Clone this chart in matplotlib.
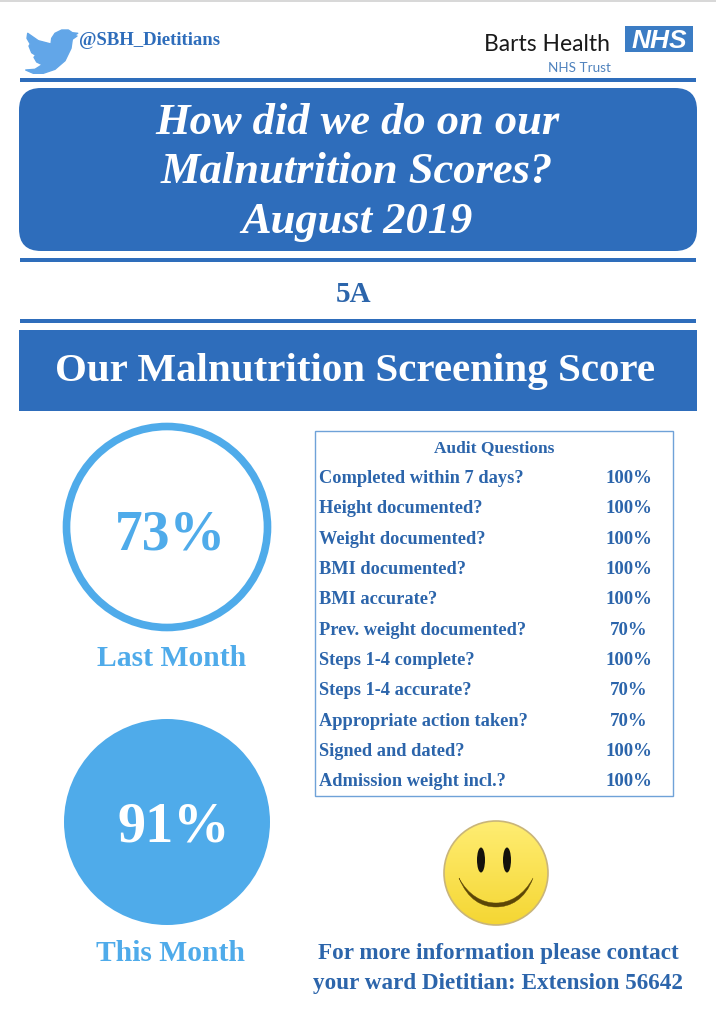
import matplotlib
matplotlib.use('Agg')
import matplotlib.pyplot as plt
from matplotlib.patches import Circle, Ellipse, FancyBboxPatch, PathPatch, Rectangle
from matplotlib.path import Path
import numpy as np

BLUE = '#2e6dbb'
DARK_BLUE = '#2c65ab'
SKY = '#4fabea'
BIRD = '#62a6e8'
SERIF = 'Liberation Serif'

title_lines = ['How did we do on our', 'Malnutrition Scores?', 'August 2019']
ward = '5A'
banner = 'Our Malnutrition Screening Score'
last_month = 73
this_month = 91
audit_questions = ['Completed within 7 days?', 'Height documented?', 'Weight documented?',
                   'BMI documented?', 'BMI accurate?', 'Prev. weight documented?',
                   'Steps 1-4 complete?', 'Steps 1-4 accurate?', 'Appropriate action taken?',
                   'Signed and dated?', 'Admission weight incl.?']
audit_scores = [100, 100, 100, 100, 100, 70, 100, 70, 70, 100, 100]
contact_lines = ['For more information please contact', 'your ward Dietitian: Extension 56642']


def serif_text(ax, x, y, s, size, color=DARK_BLUE, ha='center', style='normal'):
    # y is the baseline
    ax.text(x, y, s, fontsize=size, color=color, ha=ha, va='baseline', family=SERIF,
            fontweight='bold', fontstyle=style)


def draw_bird(ax):
    verts = [(77.7, 33.3), (72.3, 32.7), (68.3, 30), (61.7, 30), (55, 33.3), (51.7, 38.3), (51, 44),
             (38.3, 40.7), (27.7, 33.3), (27, 38.3), (30.3, 44), (29, 46), (31.7, 52.7), (35.7, 55.3),
             (34, 57.3), (36.7, 62), (42.3, 64.7), (35, 69.3), (25.7, 70), (33.3, 73.3), (43.3, 73.3),
             (55, 69.3), (65, 60.7), (71, 48.3), (72.3, 39.3), (77, 36), (73.7, 35.7), (77.7, 33.3)]
    codes = [Path.MOVETO] + [Path.LINETO] * (len(verts) - 2) + [Path.CLOSEPOLY]
    ax.add_patch(PathPatch(Path(verts, codes), fc=BIRD, ec=BIRD, lw=1, joinstyle='round'))


def draw_smiley(ax):
    cx, cy, r = 496, 873, 52
    shade = np.linspace(0, 1, 200).reshape(-1, 1, 1)
    colours = np.array([1.0, 0.93, 0.45]) * (1 - shade) + np.array([0.96, 0.84, 0.2]) * shade
    im = ax.imshow(colours, extent=(cx - r, cx + r, cy + r, cy - r), zorder=2, aspect='auto')
    im.set_clip_path(Circle((cx, cy), r, transform=ax.transData))
    ax.add_patch(Circle((cx, cy), r, fc='none', ec='#c9b57a', lw=1.2, zorder=3))
    for ex in (481, 507):
        ax.add_patch(Ellipse((ex, 860), 8, 25, fc='#14120c', ec='none', zorder=4))
    smile = [(459, 878), (468, 900), (482, 907), (496, 907), (510, 907), (525, 900), (533, 878),
             (524, 895), (510, 903), (496, 903), (482, 903), (468, 895), (459, 878)]
    ax.add_patch(PathPatch(Path(smile, [Path.MOVETO] + [Path.CURVE4] * 12),
                           fc='#5c4606', ec='#5c4606', lw=0.3, zorder=4))


fig = plt.figure(figsize=(7.16, 10.24), dpi=100)
ax = fig.add_axes([0, 0, 1, 1])
ax.set_xlim(0, 716)
ax.set_ylim(1024, 0)
ax.axis('off')

# header
ax.add_patch(Rectangle((0, 0), 716, 2, fc='#d8d8d8', ec='none'))
draw_bird(ax)
serif_text(ax, 79, 45, '@SBH_Dietitians', 13.5, color=BLUE, ha='left')
ax.text(610, 51, 'Barts Health', fontsize=16.5, color='#1a1a1a', ha='right', va='baseline', family='Lato')
ax.add_patch(Rectangle((625, 26), 68, 26, fc='#3b7cc4', ec='none'))
ax.text(659, 48, 'NHS', fontsize=19, color='white', ha='center', va='baseline', family='Liberation Sans',
        fontweight='bold', fontstyle='italic')
ax.text(611, 72, 'NHS Trust', fontsize=9.7, color='#4f82bd', ha='right', va='baseline', family='Lato')

# rules and title panel
for top, bottom in [(78, 82), (258, 262), (319, 323)]:
    ax.add_patch(Rectangle((20, top), 676, bottom - top, fc=BLUE, ec='none'))
pad = 22
ax.add_patch(FancyBboxPatch((19 + pad, 88 + pad), 678 - 2 * pad, 163 - 2 * pad,
                            boxstyle=f'round,pad={pad},rounding_size={pad}', fc=BLUE, ec='none'))
for y, line in zip([134, 183, 233], title_lines):
    serif_text(ax, 357, y, line, 32, color='white', style='italic')
serif_text(ax, 354, 302, ward, 21)
ax.add_patch(Rectangle((19, 330), 678, 81, fc=BLUE, ec='none'))
serif_text(ax, 355, 381, banner, 29.5, color='white')

# monthly scores
ax.add_patch(Circle((167, 527), 100.5, fc='white', ec=SKY, lw=5.5))
serif_text(ax, 170, 549, f'{last_month}%', 40, color=SKY)
serif_text(ax, 172, 666, 'Last Month', 21.3, color=SKY)
ax.add_patch(Circle((167, 822), 103, fc=SKY, ec='none'))
serif_text(ax, 174, 841, f'{this_month}%', 40.5, color='white')
serif_text(ax, 171, 961, 'This Month', 21.3, color=SKY)

# audit table
ax.add_patch(Rectangle((315, 431), 358, 365, fc='white', ec='#6fa2d8', lw=1))
serif_text(ax, 494, 452, 'Audit Questions', 12.5)
for i, (question, score) in enumerate(zip(audit_questions, audit_scores)):
    y = 483 + i * 30.35
    serif_text(ax, 319, y, question, 13.2, ha='left')
    serif_text(ax, 629, y, f'{score}%', 13.5)

draw_smiley(ax)
for y, line in zip([959, 989], contact_lines):
    serif_text(ax, 498, y, line, 16.7)

fig.savefig('out.png', dpi=100)
